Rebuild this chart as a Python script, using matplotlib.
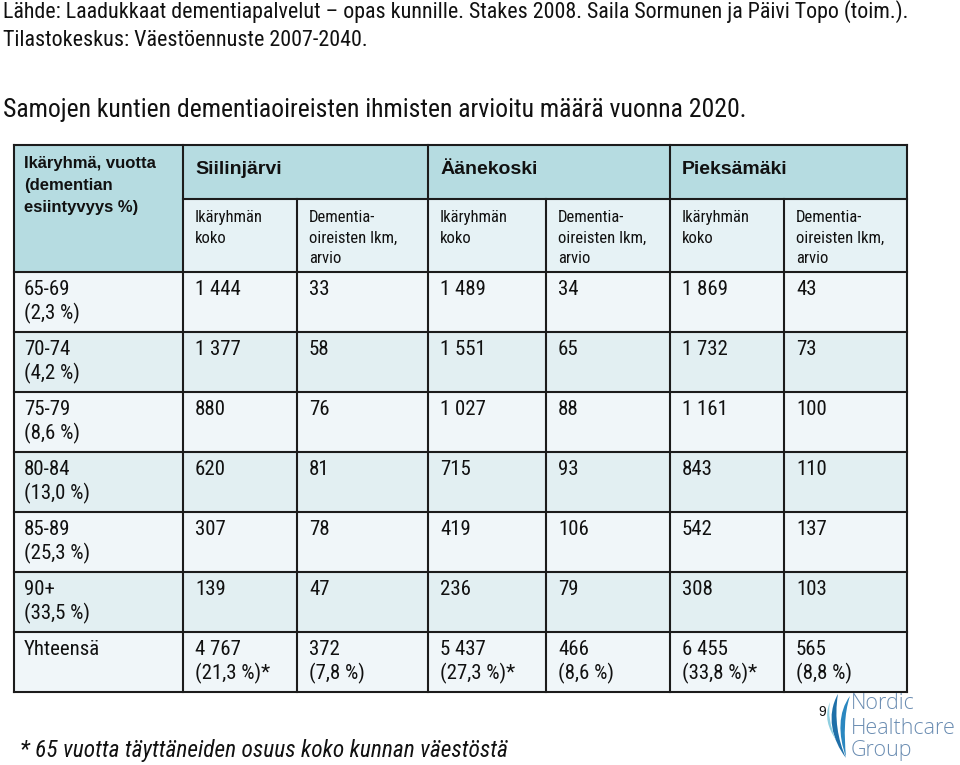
import matplotlib
matplotlib.use("Agg")
import matplotlib.pyplot as plt
from matplotlib.patches import Rectangle, PathPatch
from matplotlib.path import Path

# ---------------- data ----------------
source_lines = [
    "Lähde: Laadukkaat dementiapalvelut – opas kunnille. Stakes 2008. Saila Sormunen ja Päivi Topo (toim.).",
    "Tilastokeskus: Väestöennuste 2007-2040.",
]
title = "Samojen kuntien dementiaoireisten ihmisten arvioitu määrä vuonna 2020."
corner_header = ["Ikäryhmä, vuotta", "(dementian", "esiintyvyys %)"]
municipalities = ["Siilinjärvi", "Äänekoski", "Pieksämäki"]
sub_headers = [["Ikäryhmän", "koko"], ["Dementia-", "oireisten lkm,", "arvio"]]
age_groups = ["65-69", "70-74", "75-79", "80-84", "85-89", "90+"]
prevalence = ["(2,3 %)", "(4,2 %)", "(8,6 %)", "(13,0 %)", "(25,3 %)", "(33,5 %)"]
total_label = "Yhteensä"

siilinjarvi_size = [1444, 1377, 880, 620, 307, 139]
siilinjarvi_dementia = [33, 58, 76, 81, 78, 47]
aanekoski_size = [1489, 1551, 1027, 715, 419, 236]
aanekoski_dementia = [34, 65, 88, 93, 106, 79]
pieksamaki_size = [1869, 1732, 1161, 843, 542, 308]
pieksamaki_dementia = [43, 73, 100, 110, 137, 103]

total_size = [4767, 5437, 6455]
total_size_share = ["(21,3 %)*", "(27,3 %)*", "(33,8 %)*"]
total_dementia = [372, 466, 565]
total_dementia_share = ["(7,8 %)", "(8,6 %)", "(8,8 %)"]

footnote = "* 65 vuotta täyttäneiden osuus koko kunnan väestöstä"
page_number = "9"
logo_lines = ["Nordic", "Healthcare", "Group"]

# ---------------- layout ----------------
NARROW = ["Roboto Condensed", "Liberation Sans", "DejaVu Sans"]
REGULAR = ["Liberation Sans", "DejaVu Sans"]

col_x = [14, 183, 297, 428, 546, 670, 784, 907]
head_top, head_mid, head_bot = 145, 199, 272
row_h = 60

HEAD_BG = "#b6dce1"
SUB_BG = "#e6f2f5"
ROW_LIGHT = "#f0f6f9"
ROW_DARK = "#e2eff2"
LINE = "#1c1c1c"
TXT = "#111111"
LW = 1.5


def fmt(v):
    return f"{v:,}".replace(",", " ")


fig = plt.figure(figsize=(9.6, 7.65), dpi=100)
ax = fig.add_axes([0, 0, 1, 1])
ax.set_xlim(0, 960)
ax.set_ylim(765, 0)
ax.axis("off")

# source & title
ax.text(3, 18, source_lines[0], family=NARROW, fontsize=15.8, color=TXT, va="baseline")
ax.text(3, 46, source_lines[1], family=NARROW, fontsize=15.8, color=TXT, va="baseline")
ax.text(3, 117, title, family=NARROW, fontsize=18.5, color=TXT, va="baseline")

# build rows
rows = []
for i in range(len(age_groups)):
    rows.append((
        [age_groups[i], prevalence[i]],
        [[fmt(siilinjarvi_size[i])], [fmt(siilinjarvi_dementia[i])],
         [fmt(aanekoski_size[i])], [fmt(aanekoski_dementia[i])],
         [fmt(pieksamaki_size[i])], [fmt(pieksamaki_dementia[i])]],
    ))
tot_cells = []
for m in range(3):
    tot_cells.append([fmt(total_size[m]), total_size_share[m]])
    tot_cells.append([fmt(total_dementia[m]), total_dementia_share[m]])
rows.append(([total_label], tot_cells))

n_rows = len(rows)
table_bot = head_bot + n_rows * row_h

# backgrounds
ax.add_patch(Rectangle((col_x[0], head_top), col_x[-1] - col_x[0], head_mid - head_top,
                       facecolor=HEAD_BG, edgecolor="none", zorder=1))
ax.add_patch(Rectangle((col_x[0], head_top), col_x[1] - col_x[0], head_bot - head_top,
                       facecolor=HEAD_BG, edgecolor="none", zorder=1))
ax.add_patch(Rectangle((col_x[1], head_mid), col_x[-1] - col_x[1], head_bot - head_mid,
                       facecolor=SUB_BG, edgecolor="none", zorder=1))
for r in range(n_rows):
    y0 = head_bot + r * row_h
    ax.add_patch(Rectangle((col_x[0], y0), col_x[-1] - col_x[0], row_h,
                           facecolor=ROW_LIGHT if r % 2 == 0 else ROW_DARK,
                           edgecolor="none", zorder=1))


def hline(y, x0, x1):
    ax.plot([x0, x1], [y, y], color=LINE, lw=LW, solid_capstyle="projecting", zorder=3)


def vline(x, y0, y1):
    ax.plot([x, x], [y0, y1], color=LINE, lw=LW, solid_capstyle="projecting", zorder=3)


hline(head_top, col_x[0], col_x[-1])
hline(head_mid, col_x[1], col_x[-1])
for r in range(n_rows + 1):
    hline(head_bot + r * row_h, col_x[0], col_x[-1])
for k, x in enumerate(col_x):
    if k in (2, 4, 6):
        vline(x, head_mid, table_bot)
    else:
        vline(x, head_top, table_bot)

# header text
for j, line in enumerate(corner_header):
    ax.text(col_x[0] + 10, 168 + j * 22, line, family=REGULAR, fontsize=12,
            fontweight="bold", color=TXT, va="baseline", zorder=4)
for m, name in enumerate(municipalities):
    ax.text(col_x[1 + 2 * m] + 12, 174, name, family=REGULAR, fontsize=14,
            fontweight="bold", color=TXT, va="baseline", zorder=4)
    for s in range(2):
        for j, line in enumerate(sub_headers[s]):
            ax.text(col_x[1 + 2 * m + s] + 12, 222 + j * 20.5, line, family=NARROW,
                    fontsize=12, color=TXT, va="baseline", zorder=4)

# body text
for r, (label_lines, cells) in enumerate(rows):
    y0 = head_bot + r * row_h
    for j, line in enumerate(label_lines):
        ax.text(col_x[0] + 10, y0 + 23 + j * 24, line, family=NARROW, fontsize=15,
                color=TXT, va="baseline", zorder=4)
    for c, cell in enumerate(cells):
        for j, line in enumerate(cell):
            ax.text(col_x[1 + c] + 12, y0 + 23 + j * 24, line, family=NARROW, fontsize=15,
                    color=TXT, va="baseline", zorder=4)

# footnote
ax.text(20, 757, footnote, family=NARROW, fontsize=16.8, style="italic",
        color=TXT, va="baseline")

# page number
ax.text(818, 716, page_number, family=REGULAR, fontsize=10, color=TXT, va="baseline")

# logo swoosh
sw1 = Path([(838, 694), (826, 715), (832, 740), (846, 758),
            (838, 740), (834, 718), (838, 694)],
           [Path.MOVETO, Path.CURVE4, Path.CURVE4, Path.CURVE4,
            Path.CURVE4, Path.CURVE4, Path.CURVE4])
ax.add_patch(PathPatch(sw1, facecolor="#1f6fa8", edgecolor="none", zorder=5))
sw2 = Path([(850, 696), (838, 712), (838, 735), (846, 757),
            (844, 735), (844, 714), (850, 696)],
           [Path.MOVETO, Path.CURVE4, Path.CURVE4, Path.CURVE4,
            Path.CURVE4, Path.CURVE4, Path.CURVE4])
ax.add_patch(PathPatch(sw2, facecolor="#2a87c0", edgecolor="none", zorder=5))
sw3 = Path([(830, 702), (824, 716), (828, 728), (836, 740),
            (830, 726), (828, 714), (830, 702)],
           [Path.MOVETO, Path.CURVE4, Path.CURVE4, Path.CURVE4,
            Path.CURVE4, Path.CURVE4, Path.CURVE4])
ax.add_patch(PathPatch(sw3, facecolor="#8fcfe0", edgecolor="none", zorder=5))

logo_y = [709, 734, 756]
for line, y in zip(logo_lines, logo_y):
    ax.text(851, y, line, family=["Open Sans", "Lato", "DejaVu Sans"], fontsize=15.5,
            fontweight="light", color="#6b8db2", va="baseline", zorder=5)

fig.savefig("out.png", dpi=100)
